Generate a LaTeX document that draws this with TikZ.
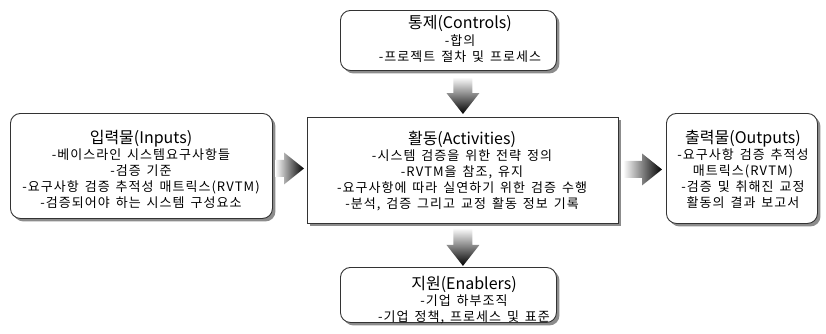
\documentclass[tikz,border=0pt]{standalone}
\usepackage{fontspec}
\setmainfont{Noto Sans CJK KR}
\newfontfamily\bodyface{Noto Sans CJK KR}[LetterSpace=8,WordSpace=1.5]
\usetikzlibrary{shadows,calc}
\newcommand\ttlfont{\rmfamily\fontsize{16}{20}\selectfont}
\newcommand\bodyfont{\bodyface\fontsize{13}{16}\selectfont}
\tikzset{
  shadowed/.style={general shadow={fill=black!45, shadow xshift=3pt, shadow yshift=-3pt}},
  boxr/.style={draw=black!80, line width=0.9pt, fill=white, rounded corners=10pt, shadowed, inner sep=0pt, anchor=north west},
  boxs/.style={draw=black!80, line width=0.9pt, fill=white, shadowed, inner sep=0pt, anchor=north west},
  txt/.style={align=center, anchor=north, inner sep=0pt, font=\bodyfont, text=black},
  rarrow/.pic={\path[left color=white, right color=black] (0,0) -- (-20,-16) -- (-20,-8.5) -- (-#1,-8.5) -- (-#1,8.5) -- (-20,8.5) -- (-20,16) -- cycle;},
  darrow/.pic={\path[top color=white, bottom color=black] (0,0) -- (-16.5,-21) -- (-9.5,-21) -- (-9.5,-#1) -- (9.5,-#1) -- (9.5,-21) -- (16.5,-21) -- cycle;}
}
\begin{document}
\begin{tikzpicture}[x=1pt,y=-1pt]
\useasboundingbox (0,0) rectangle (826,333);
% boxes
\node[boxr, minimum width=216pt, minimum height=60pt] (controls) at (340,10) {};
\node[boxr, minimum width=262pt, minimum height=105pt] (inputs) at (10,113) {};
\node[boxs, minimum width=311pt, minimum height=106pt] (act) at (307,117) {};
\node[boxr, minimum width=151pt, minimum height=110pt] (outputs) at (666,113) {};
\node[boxr, minimum width=216pt, minimum height=55pt] (enablers) at (340,267) {};
% texts
\node[txt] (tcontrols) at (460,15) {{\ttlfont 통제(Controls)}\\[1pt]-합의\\-프로젝트 절차 및 프로세스};
\node[txt] (tinputs) at (141,130) {{\ttlfont 입력물(Inputs)}\\-베이스라인 시스템요구사항들\\-검증 기준\\-요구사항 검증 추적성 매트릭스(RVTM)\\-검증되어야 하는 시스템 구성요소};
\node[txt] (tact) at (462,131) {{\ttlfont 활동(Activities)}\\-시스템 검증을 위한 전략 정의\\-RVTM을 참조, 유지\\-요구사항에 따라 실연하기 위한 검증 수행\\-분석, 검증 그리고 교정 활동 정보 기록};
\node[txt] (toutputs) at (743,130) {{\ttlfont 출력물(Outputs)}\\-요구사항 검증 추적성\\매트릭스(RVTM)\\-검증 및 취해진 교정\\활동의 결과 보고서};
\node[txt] (tenablers) at (464,276) {{\ttlfont 지원(Enablers)}\\-기업 하부조직\\-기업 정책, 프로세스 및 표준};
% block arrows between boxes
\coordinate (tip1) at ($(act.west)+(-3,-2)$);
\coordinate (tip2) at ($(outputs.west)+(-4,1)$);
\coordinate (tip3) at ($(act.north)+(0,-3)$);
\coordinate (tip4) at ($(act.south)+(0,42)$);
\pic at (tip1) {rarrow=29};
\pic at (tip2) {rarrow=39};
\pic at (tip3) {darrow=37};
\pic at (tip4) {darrow=38};
\end{tikzpicture}
\end{document}
